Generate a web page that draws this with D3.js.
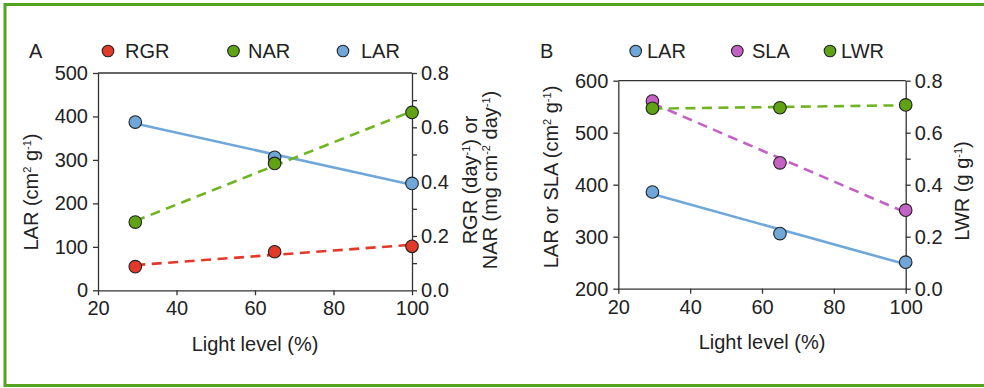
<!DOCTYPE html>
<html><head><meta charset="utf-8">
<script src="https://cdn.jsdelivr.net/npm/d3@7"></script>
<style>
body{margin:0;background:#fff}
svg text{font-family:"Liberation Sans",Arial,sans-serif;fill:#222}
</style></head><body>
<svg id="chart" width="984" height="388"></svg>
<script>
// Light level treatments (% of full light)
const lightLevels = [29.5, 65, 100];
const xTicks = [20, 40, 60, 80, 100];

// Panel A: growth analysis
const rgr = [0.087, 0.142, 0.162];   // day^-1
const nar = [0.251, 0.467, 0.655];   // mg cm^-2 day^-1
const larA = [387, 306, 246];        // cm^2 g^-1

// Panel B: leaf area components
const larB = [386, 306, 251];        // cm^2 g^-1
const sla = [561, 442, 351];         // cm^2 g^-1
const lwr = [0.694, 0.696, 0.707];   // g g^-1

const ticksA = [0, 100, 200, 300, 400, 500];
const ticksB = [200, 300, 400, 500, 600];
const ratioTicks = [0, 0.2, 0.4, 0.6, 0.8];
const ratioMinor = [0.1, 0.3, 0.5, 0.7];

const COL = {
  red: "#e2392b", green: "#5fa315", greenLine: "#6fb521",
  blue: "#6fa7d9", magenta: "#c462c4"
};

const svg = d3.select("#chart");

// outer frame (left, top, bottom)
svg.append("path")
  .attr("d", "M984,4.5 L5,4.5 L5,385.5 L984,385.5")
  .attr("fill", "none").attr("stroke", "#52a41c").attr("stroke-width", 3);

// least-squares fit over the observed points
function fit(xs, ys) {
  const mx = d3.mean(xs), my = d3.mean(ys);
  const b = d3.sum(xs, (x, i) => (x - mx) * (ys[i] - my)) / d3.sum(xs, x => (x - mx) ** 2);
  const a = my - b * mx;
  const x0 = d3.min(xs), x1 = d3.max(xs);
  return [[x0, a + b * x0], [x1, a + b * x1]];
}

function richText(sel, parts) {
  let raised = false;
  parts.forEach(p => {
    const sup = typeof p !== "string";
    const t = sel.append("tspan").text(sup ? p.sup : p);
    if (sup) { t.attr("font-size", 11).attr("dy", -7); raised = true; }
    else if (raised) { t.attr("dy", 7); raised = false; }
  });
}

function panel(cfg) {
  const g = svg.append("g");
  const x = d3.scaleLinear().domain([20, 100]).range([cfg.left, cfg.right]);
  const yL = d3.scaleLinear().domain(cfg.leftDomain).range([cfg.bottom, cfg.top]);
  const yR = d3.scaleLinear().domain([0, 0.8]).range([cfg.bottom, cfg.top]);

  // axes
  const ax = g.append("g").attr("font-size", 20);
  ax.append("g").attr("transform", `translate(0,${cfg.bottom})`)
    .call(d3.axisBottom(x).tickValues(xTicks).tickSize(5).tickSizeOuter(0).tickPadding(6).tickFormat(d3.format("d")));
  ax.append("g").attr("transform", `translate(${cfg.left},0)`)
    .call(d3.axisLeft(yL).tickValues(cfg.leftTicks).tickSize(5).tickSizeOuter(0).tickPadding(5).tickFormat(d3.format("d")));
  ax.append("g").attr("transform", `translate(${cfg.right},0)`)
    .call(d3.axisRight(yR).tickValues(ratioTicks).tickSize(5).tickSizeOuter(0).tickPadding(4).tickFormat(d3.format(".1f")));
  ax.append("g").attr("transform", `translate(${cfg.right},0)`)
    .call(d3.axisRight(yR).tickValues(ratioMinor).tickSize(5).tickSizeOuter(0).tickFormat(""))
    .select(".domain").remove();
  // top frame line
  ax.append("line").attr("x1", cfg.left).attr("x2", cfg.right)
    .attr("y1", cfg.top).attr("y2", cfg.top);
  ax.selectAll("path.domain, line").attr("stroke", "#333").attr("stroke-width", 1.3);
  ax.selectAll(".tick line").attr("stroke", "#333").attr("stroke-width", 1.3);
  ax.selectAll("text").attr("font-family", '"Liberation Sans",Arial,sans-serif').attr("fill", "#222").attr("font-size", 20);

  // fit lines then markers
  const line = d3.line().x(d => x(d[0])).y(d => d[2](d[1]));
  cfg.series.forEach(s => {
    const scale = s.axis === "left" ? yL : yR;
    const pts = fit(lightLevels, s.values).map(p => [p[0], p[1], scale]);
    g.append("path").attr("d", line(pts))
      .attr("fill", "none").attr("stroke", s.line || s.color).attr("stroke-width", 2.6)
      .attr("stroke-dasharray", s.dashed ? "10,6.5" : null);
  });
  cfg.series.forEach(s => {
    const scale = s.axis === "left" ? yL : yR;
    g.selectAll(null).data(s.values).enter().append("circle")
      .attr("cx", (d, i) => x(lightLevels[i])).attr("cy", d => scale(d))
      .attr("r", 6.3).attr("fill", s.color).attr("stroke", "#222").attr("stroke-width", 1.1);
  });

  // x title
  g.append("text").attr("x", (cfg.left + cfg.right) / 2).attr("y", cfg.xTitleY)
    .attr("text-anchor", "middle").attr("font-size", 20).text("Light level (%)");

  // y titles
  cfg.yTitles.forEach(t => {
    const txt = g.append("text").attr("transform", `translate(${t.x},${t.y}) rotate(-90)`)
      .attr("text-anchor", "middle").attr("font-size", 20);
    t.lines.forEach((ln, i) => {
      const row = txt.append("tspan").attr("x", 0).attr("y", i * t.lh);
      richText(row, ln);
    });
  });

  // panel letter and legend
  g.append("text").attr("x", cfg.letterX).attr("y", 58).attr("font-size", 20).text(cfg.letter);
  cfg.series.forEach((s, i) => {
    const lg = cfg.legend[i];
    g.append("circle").attr("cx", lg.cx).attr("cy", 51).attr("r", 5.8)
      .attr("fill", s.color).attr("stroke", "#222").attr("stroke-width", 1.1);
    g.append("text").attr("x", lg.tx).attr("y", 58).attr("font-size", 20).text(s.name);
  });
}

panel({
  letter: "A", letterX: 29,
  left: 98, right: 412, top: 73, bottom: 290.3,
  leftDomain: [0, 500], leftTicks: ticksA,
  xTitleY: 351,
  series: [
    { name: "LAR", values: larA, axis: "left", color: COL.blue },
    { name: "RGR", values: rgr, axis: "right", color: COL.red, dashed: true },
    { name: "NAR", values: nar, axis: "right", color: COL.green, line: COL.greenLine, dashed: true }
  ],
  legend: [{ cx: 343, tx: 361 }, { cx: 108, tx: 125 }, { cx: 233.5, tx: 248 }],
  yTitles: [
    { x: 38, y: 192, lh: 18, lines: [["LAR (cm", { sup: "2" }, " g", { sup: "-1" }, ")"]] },
    { x: 477, y: 180, lh: 20, lines: [
      ["RGR (day", { sup: "-1" }, ") or"],
      ["NAR (mg cm", { sup: "-2" }, " day", { sup: "-1" }, ")"]
    ] }
  ]
});

panel({
  letter: "B", letterX: 540,
  left: 618.3, right: 905.7, top: 80.7, bottom: 288.7,
  leftDomain: [200, 600], leftTicks: ticksB,
  xTitleY: 349,
  series: [
    { name: "LAR", values: larB, axis: "left", color: COL.blue },
    { name: "SLA", values: sla, axis: "left", color: COL.magenta, dashed: true },
    { name: "LWR", values: lwr, axis: "right", color: COL.green, line: COL.greenLine, dashed: true }
  ],
  legend: [{ cx: 635.7, tx: 647 }, { cx: 737.3, tx: 752 }, { cx: 830, tx: 841 }],
  yTitles: [
    { x: 558, y: 177, lh: 18, lines: [["LAR or SLA (cm", { sup: "2" }, " g", { sup: "-1" }, ")"]] },
    { x: 969, y: 191, lh: 18, lines: [["LWR (g g", { sup: "-1" }, ")"]] }
  ]
});
</script>
</body></html>
